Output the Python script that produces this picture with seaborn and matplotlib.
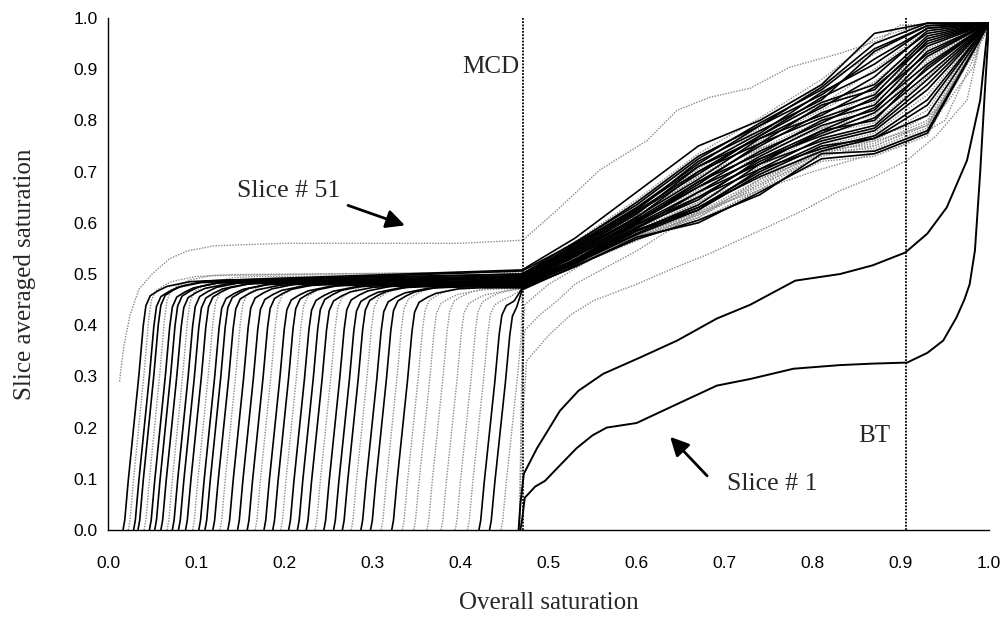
import matplotlib
matplotlib.use("Agg")
import matplotlib.pyplot as plt
import seaborn as sns

sns.set_theme(style="white")
plt.rcParams["font.family"] = ["Liberation Serif", "DejaVu Serif"]

# ---------------------------------------------------------------------------
# Data
# ---------------------------------------------------------------------------
X_TICKS = [0.0, 0.1, 0.2, 0.3, 0.4, 0.5, 0.6, 0.7, 0.8, 0.9, 1.0]
X_TICK_LABELS = ["0.0", "0.1", "0.2", "0.3", "0.4", "0.5", "0.6", "0.7", "0.8", "0.9", "1.0"]
Y_TICKS = [0.0, 0.1, 0.2, 0.3, 0.4, 0.5, 0.6, 0.7, 0.8, 0.9, 1.0]
Y_TICK_LABELS = ["0.0", "0.1", "0.2", "0.3", "0.4", "0.5", "0.6", "0.7", "0.8", "0.9", "1.0"]

MCD_X = 0.471
BT_X = 0.906

# slice 1 (outlet slice)
SLICE1_X = [0.468, 0.470, 0.473, 0.485, 0.496, 0.515, 0.532, 0.550, 0.566, 0.600,
            0.646, 0.691, 0.729, 0.778, 0.830, 0.868, 0.907, 0.930, 0.948, 0.963,
            0.972, 0.978, 0.984, 0.990, 0.995, 1.000]
SLICE1_Y = [0.000, 0.020, 0.063, 0.085, 0.096, 0.130, 0.160, 0.185, 0.200, 0.209,
            0.246, 0.282, 0.295, 0.315, 0.322, 0.325, 0.327, 0.346, 0.370, 0.415,
            0.450, 0.480, 0.546, 0.700, 0.850, 0.990]

# slice 2
SLICE2_X = [0.466, 0.468, 0.472, 0.487, 0.513, 0.534, 0.562, 0.604, 0.646, 0.691,
            0.729, 0.780, 0.831, 0.868, 0.905, 0.930, 0.952, 0.975, 0.990, 0.999]
SLICE2_Y = [0.000, 0.050, 0.110, 0.160, 0.233, 0.272, 0.305, 0.337, 0.370, 0.413,
            0.440, 0.487, 0.500, 0.517, 0.542, 0.579, 0.630, 0.722, 0.840, 0.990]

# slices 3-5
SLICE3_X = [0.467, 0.470, 0.475, 0.500, 0.525, 0.551, 0.600, 0.640, 0.683, 0.740,
            0.790, 0.831, 0.870, 0.907, 0.940, 0.975, 0.995]
SLICE3_Y = [0.000, 0.200, 0.330, 0.380, 0.420, 0.448, 0.480, 0.510, 0.540, 0.585,
            0.625, 0.663, 0.690, 0.722, 0.770, 0.840, 0.990]

SLICE4_X = [0.467, 0.470, 0.473, 0.490, 0.510, 0.530, 0.551, 0.600, 0.650, 0.717,
            0.793, 0.850, 0.907, 0.950, 0.982, 0.995]
SLICE4_Y = [0.000, 0.300, 0.390, 0.420, 0.448, 0.480, 0.500, 0.545, 0.600, 0.677,
            0.728, 0.760, 0.787, 0.830, 0.904, 0.990]

SLICE5_X = [0.467, 0.470, 0.473, 0.500, 0.550, 0.600, 0.700, 0.800, 0.900, 0.950,
            0.990, 1.000]
SLICE5_Y = [0.000, 0.360, 0.440, 0.480, 0.530, 0.565, 0.640, 0.700, 0.750, 0.800,
            0.950, 0.990]

# slice 51 (inlet slice)
SLICE51_X = [0.013, 0.018, 0.025, 0.035, 0.050, 0.070, 0.090, 0.120, 0.200, 0.300,
             0.400, 0.471, 0.513, 0.558, 0.612, 0.646, 0.683, 0.729, 0.774, 0.831,
             0.876, 0.899, 1.000]
SLICE51_Y = [0.290, 0.360, 0.420, 0.470, 0.500, 0.530, 0.545, 0.555, 0.560, 0.560,
             0.560, 0.566, 0.630, 0.703, 0.761, 0.820, 0.845, 0.863, 0.904, 0.931,
             0.957, 0.986, 0.990]

# slices 50 ... 6 : overall saturation at which the front reaches each slice
FRONT_ONSET = [0.017, 0.023, 0.029, 0.034, 0.041, 0.047, 0.053, 0.060, 0.067, 0.073,
               0.080, 0.088, 0.096, 0.103, 0.110, 0.119, 0.127, 0.136, 0.147, 0.158,
               0.167, 0.177, 0.187, 0.196, 0.205, 0.215, 0.225, 0.235, 0.245, 0.256,
               0.266, 0.276, 0.287, 0.298, 0.310, 0.322, 0.334, 0.347, 0.362, 0.378,
               0.394, 0.408, 0.421, 0.433, 0.446]
# saturation level each slice settles at behind the front
PLATEAU = [0.487, 0.497, 0.485, 0.488, 0.499, 0.484, 0.486, 0.483, 0.495, 0.485,
           0.482, 0.484, 0.493, 0.481, 0.483, 0.480, 0.490, 0.482, 0.479, 0.481,
           0.488, 0.478, 0.480, 0.486, 0.477, 0.479, 0.476, 0.484, 0.478, 0.475,
           0.477, 0.482, 0.474, 0.476, 0.480, 0.473, 0.478, 0.471, 0.476, 0.470,
           0.474, 0.468, 0.466, 0.464, 0.462]
# "k" = solid black series, "g" = grey dotted series
FRONT_STYLE = ["k", "g", "k", "k", "g", "k", "k", "k", "g", "k",
               "k", "k", "g", "k", "k", "k", "g", "k", "k", "k",
               "g", "k", "k", "g", "k", "k", "k", "g", "k", "k",
               "k", "g", "k", "k", "g", "k", "g", "g", "g", "g",
               "g", "g", "k", "k", "g"]

# shape of a saturation front: offset from onset vs. fraction of plateau level
FRONT_DX = [0.000, 0.002, 0.006, 0.012, 0.018, 0.023, 0.026, 0.031, 0.040, 0.050, 0.076, 0.100]
FRONT_FRAC = [0.00, 0.04, 0.20, 0.41, 0.62, 0.82, 0.90, 0.94, 0.96, 0.977, 0.996, 1.00]

# slice saturation after the MCD for slices 50 ... 6
TAIL_X = [0.47, 0.53, 0.60, 0.67, 0.74, 0.81, 0.87, 0.93, 1.00]
TAILS = [
    [0.508, 0.570, 0.660, 0.750, 0.800, 0.870, 0.970, 0.990, 0.990],
    [0.505, 0.563, 0.645, 0.735, 0.805, 0.880, 0.960, 0.990, 0.990],
    [0.506, 0.560, 0.640, 0.730, 0.790, 0.865, 0.950, 0.990, 0.990],
    [0.500, 0.562, 0.635, 0.725, 0.795, 0.860, 0.940, 0.985, 0.990],
    [0.503, 0.556, 0.640, 0.720, 0.785, 0.870, 0.930, 0.990, 0.990],
    [0.497, 0.558, 0.630, 0.715, 0.790, 0.850, 0.920, 0.980, 0.990],
    [0.500, 0.552, 0.625, 0.720, 0.780, 0.840, 0.935, 0.985, 0.990],
    [0.495, 0.555, 0.628, 0.710, 0.775, 0.855, 0.910, 0.980, 0.990],
    [0.498, 0.549, 0.620, 0.705, 0.780, 0.830, 0.900, 0.975, 0.990],
    [0.493, 0.552, 0.623, 0.700, 0.770, 0.845, 0.895, 0.970, 0.990],
    [0.496, 0.546, 0.617, 0.710, 0.765, 0.825, 0.885, 0.975, 0.990],
    [0.490, 0.549, 0.620, 0.695, 0.770, 0.835, 0.870, 0.965, 0.990],
    [0.494, 0.543, 0.615, 0.690, 0.760, 0.820, 0.875, 0.960, 0.990],
    [0.488, 0.546, 0.610, 0.700, 0.755, 0.830, 0.860, 0.960, 0.990],
    [0.492, 0.540, 0.612, 0.685, 0.765, 0.810, 0.865, 0.950, 0.990],
    [0.487, 0.543, 0.607, 0.680, 0.750, 0.815, 0.850, 0.955, 0.990],
    [0.490, 0.537, 0.610, 0.690, 0.745, 0.800, 0.855, 0.940, 0.990],
    [0.485, 0.540, 0.603, 0.675, 0.755, 0.805, 0.840, 0.945, 0.990],
    [0.488, 0.534, 0.605, 0.670, 0.740, 0.795, 0.845, 0.930, 0.990],
    [0.483, 0.537, 0.600, 0.680, 0.735, 0.800, 0.830, 0.935, 0.990],
    [0.486, 0.531, 0.602, 0.665, 0.745, 0.785, 0.835, 0.920, 0.990],
    [0.481, 0.534, 0.597, 0.660, 0.730, 0.790, 0.820, 0.925, 0.990],
    [0.484, 0.528, 0.600, 0.670, 0.725, 0.780, 0.825, 0.910, 0.990],
    [0.480, 0.531, 0.594, 0.655, 0.735, 0.785, 0.810, 0.915, 0.990],
    [0.482, 0.526, 0.596, 0.650, 0.720, 0.775, 0.815, 0.900, 0.990],
    [0.478, 0.529, 0.590, 0.660, 0.715, 0.780, 0.800, 0.905, 0.990],
    [0.480, 0.524, 0.592, 0.645, 0.725, 0.770, 0.805, 0.890, 0.990],
    [0.477, 0.527, 0.587, 0.640, 0.710, 0.775, 0.795, 0.885, 0.990],
    [0.479, 0.522, 0.589, 0.650, 0.705, 0.765, 0.790, 0.880, 0.990],
    [0.476, 0.525, 0.584, 0.635, 0.715, 0.760, 0.785, 0.870, 0.990],
    [0.478, 0.520, 0.586, 0.630, 0.700, 0.755, 0.780, 0.860, 0.990],
    [0.475, 0.523, 0.582, 0.640, 0.695, 0.750, 0.775, 0.850, 0.990],
    [0.477, 0.519, 0.584, 0.625, 0.705, 0.745, 0.770, 0.840, 0.990],
    [0.474, 0.522, 0.579, 0.630, 0.690, 0.740, 0.765, 0.830, 0.990],
    [0.476, 0.518, 0.581, 0.620, 0.685, 0.745, 0.760, 0.820, 0.990],
    [0.473, 0.520, 0.577, 0.625, 0.695, 0.750, 0.765, 0.810, 0.990],
    [0.475, 0.517, 0.579, 0.615, 0.680, 0.740, 0.755, 0.800, 0.990],
    [0.472, 0.519, 0.574, 0.620, 0.675, 0.745, 0.750, 0.795, 0.980],
    [0.474, 0.516, 0.576, 0.610, 0.685, 0.735, 0.760, 0.790, 0.990],
    [0.471, 0.518, 0.572, 0.615, 0.670, 0.740, 0.745, 0.785, 0.990],
    [0.473, 0.515, 0.574, 0.605, 0.665, 0.735, 0.740, 0.780, 0.980],
    [0.470, 0.517, 0.570, 0.610, 0.675, 0.730, 0.750, 0.790, 0.990],
    [0.472, 0.514, 0.572, 0.600, 0.660, 0.725, 0.735, 0.775, 0.990],
    [0.469, 0.516, 0.568, 0.605, 0.655, 0.735, 0.740, 0.780, 0.990],
    [0.470, 0.513, 0.570, 0.600, 0.665, 0.720, 0.730, 0.770, 0.990],
]

# ---------------------------------------------------------------------------
# Styles
# ---------------------------------------------------------------------------
BLACK = dict(color="black", linewidth=1.2, linestyle="-")
GREY = dict(color="#8a8a8a", linewidth=1.0, linestyle=(0, (1, 1)))
SERIF = ["Liberation Serif", "DejaVu Serif"]
SANS = ["Liberation Sans", "DejaVu Sans"]

fig = plt.figure(figsize=(10.04, 6.17), dpi=100)
ax = fig.add_axes([0.1076, 0.141, 0.8775, 0.8298])


def draw(xs, ys, style):
    sns.lineplot(x=xs, y=ys, ax=ax, sort=False, estimator=None, legend=False, **style)


# each middle slice: front rising from its onset up to its plateau, the
# plateau held until the MCD, then the post-MCD rise
curves = []
for onset, level, style_key, tail in zip(FRONT_ONSET, PLATEAU, FRONT_STYLE, TAILS):
    xs, ys = [], []
    for dx, frac in zip(FRONT_DX, FRONT_FRAC):
        if onset + dx < TAIL_X[0]:
            xs.append(onset + dx)
            ys.append(frac * level)
    xs += TAIL_X
    ys += tail
    curves.append((xs, ys, GREY if style_key == "g" else BLACK))

# grey series first, black on top
for xs, ys, st in curves:
    if st is GREY:
        draw(xs, ys, st)
draw(SLICE51_X, SLICE51_Y, GREY)
draw(SLICE3_X, SLICE3_Y, GREY)
draw(SLICE4_X, SLICE4_Y, GREY)
draw(SLICE5_X, SLICE5_Y, GREY)
for xs, ys, st in curves:
    if st is BLACK:
        draw(xs, ys, st)
draw(SLICE2_X, SLICE2_Y, dict(BLACK, linewidth=1.4))
draw(SLICE1_X, SLICE1_Y, dict(BLACK, linewidth=1.4))

# MCD and breakthrough markers
for xv in (MCD_X, BT_X):
    ax.axvline(xv, ymin=0, ymax=1, color="black", linewidth=1.3, linestyle=(0, (1, 0.8)))

ax.text(0.435, 0.904, "MCD", fontsize=18, family=SERIF, ha="center", va="center")
ax.text(0.8695, 0.184, "BT", fontsize=18, family=SERIF, ha="center", va="center")
ax.text(0.1464, 0.663, "Slice # 51", fontsize=18.5, family=SERIF, ha="left", va="center")
ax.text(0.7026, 0.090, "Slice # 1", fontsize=18.5, family=SERIF, ha="left", va="center")
arrow = dict(arrowstyle="-|>", color="black", linewidth=2.0, mutation_scale=28,
             shrinkA=0, shrinkB=0)
ax.annotate("", xy=(0.337, 0.595), xytext=(0.2724, 0.634), arrowprops=arrow)
ax.annotate("", xy=(0.638, 0.182), xytext=(0.680, 0.1057), arrowprops=arrow)

# axes
ax.set_xlim(0, 1)
ax.set_ylim(0, 1)
ax.set_xticks(X_TICKS)
ax.set_xticklabels(X_TICK_LABELS, family=SANS, fontsize=12.5)
ax.set_yticks(Y_TICKS)
ax.set_yticklabels(Y_TICK_LABELS, family=SANS, fontsize=12.5)
ax.tick_params(axis="both", direction="inout", length=9, width=1.0, color="black",
               labelcolor="black")
ax.tick_params(axis="x", pad=14)
ax.tick_params(axis="y", pad=3)
for side in ("top", "right"):
    ax.spines[side].set_visible(False)
for side in ("left", "bottom"):
    ax.spines[side].set_color("black")
    ax.spines[side].set_linewidth(1.0)
    ax.spines[side].set_zorder(5)

ax.set_xlabel("Overall saturation", fontsize=18, family=SERIF, va="center")
ax.xaxis.set_label_coords(0.5, -0.143)
ax.set_ylabel("Slice averaged saturation", fontsize=18, family=SERIF, va="center")
ax.yaxis.set_label_coords(-0.094, 0.5)
ax.set_facecolor("white")
fig.patch.set_facecolor("white")

fig.savefig("out.png", dpi=100)
